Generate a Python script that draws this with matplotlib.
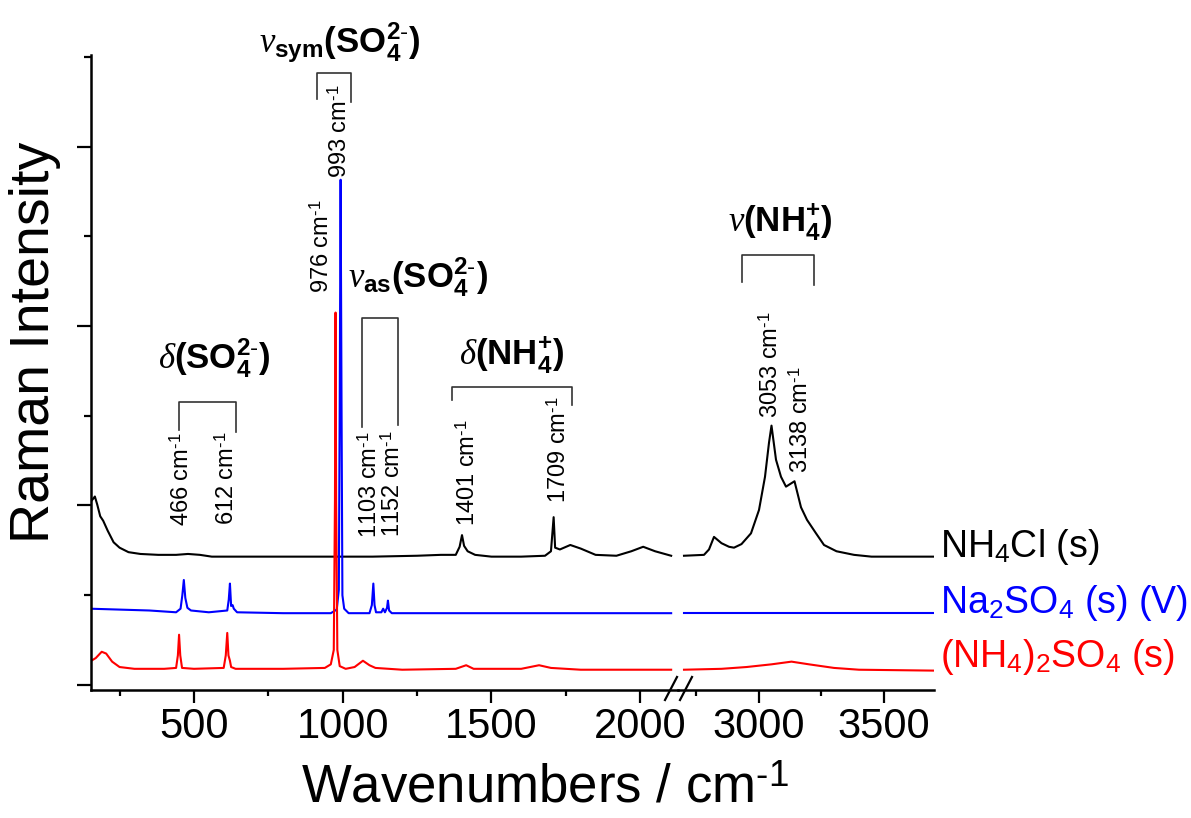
import numpy as np
import matplotlib
matplotlib.use('Agg')
import matplotlib.pyplot as plt
from matplotlib.lines import Line2D
from matplotlib.ticker import MultipleLocator

plt.rcParams['font.family'] = ['Liberation Sans', 'DejaVu Sans']
plt.rcParams['mathtext.fontset'] = 'custom'
plt.rcParams['mathtext.rm'] = 'Liberation Sans'
plt.rcParams['mathtext.bf'] = 'Liberation Sans:bold'
plt.rcParams['mathtext.it'] = 'Liberation Serif:italic'
plt.rcParams['mathtext.sf'] = 'Liberation Sans'

# ---- spectra (stacked intensities in a.u.) ----
# NH4Cl (s)
nh4cl_wn_lo = [150, 160, 167, 175, 185, 195, 210, 230, 250, 280, 320, 380, 440, 480, 520, 560, 650,
               800, 950, 1100, 1250, 1330, 1380, 1393, 1401, 1408, 1420, 1445, 1500, 1600, 1680,
               1700, 1709, 1714, 1730, 1765, 1800, 1850, 1920, 1970, 2010, 2050, 2104]
nh4cl_int_lo = [2.03, 2.07, 2.10, 2.01, 1.88, 1.83, 1.72, 1.59, 1.53, 1.48, 1.46, 1.45, 1.45, 1.46, 1.45,
                1.43, 1.43, 1.43, 1.43, 1.43, 1.44, 1.45, 1.45, 1.54, 1.67, 1.55, 1.49, 1.45, 1.43,
                1.43, 1.44, 1.49, 1.87, 1.53, 1.51, 1.56, 1.52, 1.45, 1.44, 1.49, 1.54, 1.49, 1.44]
nh4cl_wn_hi = [2700, 2780, 2800, 2820, 2850, 2880, 2900, 2930, 2968, 3000, 3024, 3040, 3050, 3068,
               3088, 3108, 3125, 3142, 3168, 3192, 3228, 3260, 3310, 3380, 3450, 3700]
nh4cl_int_hi = [1.44, 1.45, 1.51, 1.65, 1.58, 1.54, 1.53, 1.57, 1.69, 1.95, 2.32, 2.70, 2.89, 2.51,
                2.32, 2.21, 2.24, 2.27, 1.98, 1.84, 1.69, 1.56, 1.49, 1.45, 1.43, 1.43]

# Na2SO4 (s) (V)
na2so4_wn_lo = [150, 250, 350, 440, 455, 461, 466, 471, 478, 490, 550, 612, 617, 621, 625, 630, 634,
                645, 800, 960, 980, 987, 990, 993, 996, 999, 1005, 1020, 1090, 1098, 1103, 1107,
                1112, 1130, 1136, 1142, 1149, 1152, 1156, 1165, 1500, 2104]
na2so4_int_lo = [0.85, 0.84, 0.83, 0.81, 0.85, 1.00, 1.17, 0.97, 0.86, 0.83, 0.81, 0.83, 0.95, 1.13,
                 0.88, 0.89, 0.85, 0.81, 0.80, 0.80, 0.84, 1.06, 3.18, 5.63, 3.18, 1.00, 0.85, 0.80,
                 0.80, 0.89, 1.13, 0.89, 0.81, 0.81, 0.85, 0.81, 0.86, 0.94, 0.83, 0.80, 0.80, 0.80]
na2so4_wn_hi = [2700, 3000, 3400, 3700]
na2so4_int_hi = [0.80, 0.80, 0.80, 0.80]

# (NH4)2SO4 (s)
amsul_wn_lo = [150, 170, 190, 205, 225, 250, 300, 400, 440, 446, 450, 454, 460, 500, 600, 607, 612,
               616, 621, 625, 640, 800, 940, 960, 970, 974, 976, 978, 982, 990, 1010, 1040, 1068,
               1090, 1110, 1200, 1380, 1415, 1440, 1600, 1660, 1700, 1800, 2104]
amsul_int_lo = [0.26, 0.30, 0.37, 0.35, 0.26, 0.20, 0.18, 0.18, 0.19, 0.33, 0.56, 0.33, 0.19, 0.18,
                0.19, 0.33, 0.58, 0.33, 0.27, 0.20, 0.18, 0.18, 0.19, 0.23, 0.39, 2.06, 4.15, 2.06,
                0.39, 0.21, 0.18, 0.20, 0.27, 0.22, 0.19, 0.17, 0.18, 0.22, 0.18, 0.18, 0.22, 0.19,
                0.17, 0.17]
amsul_wn_hi = [2700, 2850, 2950, 3050, 3130, 3200, 3300, 3400, 3700]
amsul_int_hi = [0.17, 0.18, 0.20, 0.23, 0.26, 0.23, 0.19, 0.17, 0.16]

series_names = ['NH$_4$Cl (s)', 'Na$_2$SO$_4$ (s) (V)', '(NH$_4$)$_2$SO$_4$ (s)']
series_colors = ['black', '#0000ff', '#ff0000']

# peak labels: text, x, bottom of text
peak_labels = ['466', '612', '976', '993', '1103', '1152', '1401', '1709']
peak_label_x = [460, 611, 929, 991, 1092, 1170, 1421, 1727]
peak_label_y = [1.77, 1.78, 4.37, 5.65, 1.64, 1.65, 1.77, 2.03]
peak_labels_hi = ['3053', '3138']
peak_label_x_hi = [3048, 3168]
peak_label_y_hi = [2.98, 2.36]

# band assignment brackets: x0, x1, top, left leg end, right leg end
brackets = [(450, 641, 3.155, 2.84, 2.82),
            (914, 1028, 6.82, 6.53, 6.50),
            (1065, 1186, 4.09, 2.88, 2.90),
            (1368, 1770, 3.32, 3.18, 3.12)]
bracket_hi = (2932, 3220, 4.79, 4.49, 4.46)

group_labels = [r'$\delta\mathbf{(SO_4^{2\text{-}})}$',
                r'$\nu_{\mathbf{sym}}\mathbf{(SO_4^{2\text{-}})}$',
                r'$\nu_{\mathbf{as}}\mathbf{(SO_4^{2\text{-}})}$',
                r'$\delta\mathbf{(NH_4^{+})}$']
group_x = [568, 991, 1253, 1569]
group_y = [3.53, 7.05, 4.43, 3.57]
group_label_hi = r'$\nu\mathbf{(NH_4^{+})}$'
group_x_hi = 3084
group_y_hi = 5.05

W, H = 1191, 818
fig = plt.figure(figsize=(W / 100, H / 100), dpi=100)

ax_bottom = (818 - 690) / H
ax_height = 635 / H
ax1 = fig.add_axes([90.7 / W, ax_bottom, (678 - 90.7) / W, ax_height])
ax2 = fig.add_axes([678 / W, ax_bottom, (934 - 678) / W, ax_height])

for ax in (ax1, ax2):
    ax.set_ylim(-0.056, 7.02)
    ax.spines['top'].set_visible(False)
    ax.spines['right'].set_visible(False)
    for sp in ax.spines.values():
        sp.set_linewidth(1.8)
    ax.patch.set_alpha(0)

ax1.set_xlim(153, 2127)
ax2.set_xlim(2676, 3700)
ax2.spines['left'].set_visible(False)
ax2.set_yticks([])

ax1.xaxis.set_major_locator(MultipleLocator(500))
ax1.xaxis.set_minor_locator(MultipleLocator(250))
ax2.xaxis.set_major_locator(MultipleLocator(500))
ax2.xaxis.set_minor_locator(MultipleLocator(250))
ax1.yaxis.set_major_locator(MultipleLocator(2))
ax1.yaxis.set_minor_locator(MultipleLocator(1))
ax1.set_yticklabels([])
for ax in (ax1, ax2):
    ax.tick_params(axis='both', which='major', direction='out', length=9, width=1.6,
                   labelsize=30, pad=3)
    ax.tick_params(axis='both', which='minor', direction='out', length=4.5, width=1.6)
ax1.tick_params(axis='y', which='major', length=10)
ax1.tick_params(axis='y', which='minor', length=5)

lo_data = [(nh4cl_wn_lo, nh4cl_int_lo), (na2so4_wn_lo, na2so4_int_lo), (amsul_wn_lo, amsul_int_lo)]
hi_data = [(nh4cl_wn_hi, nh4cl_int_hi), (na2so4_wn_hi, na2so4_int_hi), (amsul_wn_hi, amsul_int_hi)]
for (x, y), col in zip(lo_data, series_colors):
    ax1.plot(x, y, color=col, lw=1.5)
for (x, y), col in zip(hi_data, series_colors):
    ax2.plot(x, y, color=col, lw=1.5)

# peak position labels
for t, x, y in zip(peak_labels, peak_label_x, peak_label_y):
    ax1.text(x, y, t + r' cm$^{\text{-1}}$', rotation=90, ha='center', va='bottom', fontsize=17)
for t, x, y in zip(peak_labels_hi, peak_label_x_hi, peak_label_y_hi):
    ax2.text(x, y, t + r' cm$^{\text{-1}}$', rotation=90, ha='center', va='bottom', fontsize=17)

# brackets
def draw_bracket(ax, b):
    x0, x1, top, l0, l1 = b
    ax.plot([x0, x0, x1, x1], [l0, top, top, l1], color='#333333', lw=1.2, clip_on=False)

for b in brackets:
    draw_bracket(ax1, b)
draw_bracket(ax2, bracket_hi)

for t, x, y in zip(group_labels, group_x, group_y):
    ax1.text(x, y, t, ha='center', va='baseline', fontsize=25, clip_on=False)
ax2.text(group_x_hi, group_y_hi, group_label_hi, ha='center', va='baseline', fontsize=25)

# series names
name_y = [557, 613, 667]
for name, col, py in zip(series_names, series_colors, name_y):
    fig.text(940 / W, 1 - py / H, name, color=col, fontsize=27, ha='left', va='baseline')

# axis titles
fig.text(35 / W, 1 - 342 / H, 'Raman Intensity', rotation=90, ha='center', va='center', fontsize=40)
fig.text(545 / W, 1 - 802 / H, r'Wavenumbers / cm$^{\text{-1}}$', ha='center', va='baseline',
         fontsize=38)

# axis break marks
for xc in (671, 686):
    fig.add_artist(Line2D([(xc - 6) / W, (xc + 6) / W], [1 - 700 / H, 1 - 677 / H],
                          color='black', lw=1.6))

fig.savefig('out.png', dpi=100)
